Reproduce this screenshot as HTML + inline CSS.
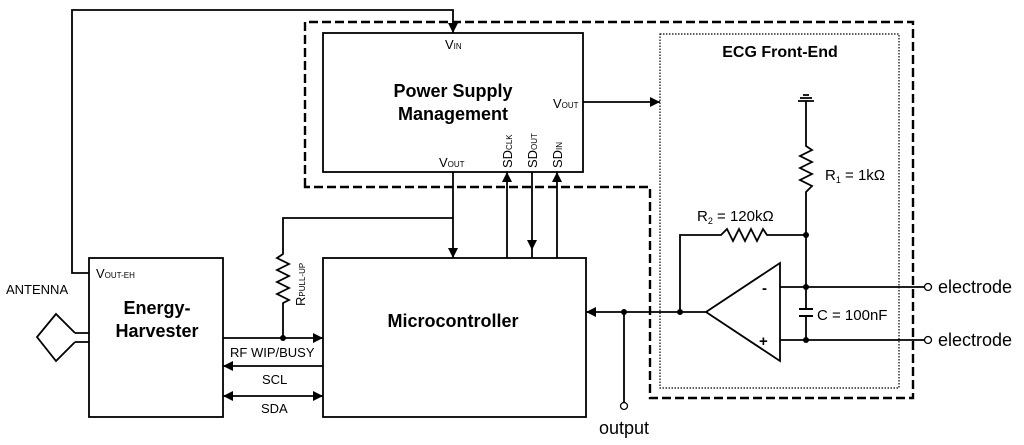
<!DOCTYPE html>
<html><head><meta charset="utf-8"><style>
html,body{margin:0;padding:0;background:#fff;}
svg{display:block;font-family:"Liberation Sans",Arial,sans-serif;}
</style></head><body>
<svg width="1024" height="445" viewBox="0 0 1024 445" xmlns="http://www.w3.org/2000/svg">
<defs>
<marker id="a" viewBox="0 0 10 10" refX="10" refY="5" markerWidth="10" markerHeight="10" markerUnits="userSpaceOnUse" orient="auto-start-reverse"><path d="M0,0 L10,5 L0,10 z" fill="#000"/></marker>
</defs>
<g fill="none" stroke="#000" stroke-width="1.8">
<path d="M305,187 V22 H913 V398 H650 V187 Z" stroke-width="2.4" stroke-dasharray="9,4"/>
<rect x="660" y="34" width="239" height="354" stroke-width="1.2" stroke-dasharray="1.5,1.5"/>
<rect x="323" y="33" width="260" height="139"/>
<rect x="89" y="258" width="134" height="159"/>
<rect x="323" y="258" width="263" height="159"/>
<path d="M89,273 H72 V10 H453 V33" marker-end="url(#a)"/>
<path d="M583,102 H660" marker-end="url(#a)"/>
<path d="M453,172 V258" marker-end="url(#a)"/>
<path d="M507,250 V172" marker-end="url(#a)"/>
<path d="M532,172 V250" marker-end="url(#a)"/>
<path d="M557,250 V172" marker-end="url(#a)"/>
<path d="M507,250 V258 M532,250 V258 M557,250 V258"/>
<path d="M453,218 H283 V254 L277,258 L289,264 L277,270 L289,276 L277,282 L289,288 L277,294 L289,300 L283,303 V338"/>
<path d="M223,338 H323" marker-end="url(#a)"/>
<path d="M323,366 H223" marker-end="url(#a)"/>
<path d="M223,396 H323" marker-start="url(#a)" marker-end="url(#a)"/>
<path d="M75,333 H89 M75,342 H89 M75,333 L56,314 L37,337 L56,361 L75,342"/>
<path d="M806,101 V146 L812,150 L800,156 L812,162 L800,168 L812,174 L800,180 L812,186 L806,192 V309 M806,316 V340"/>
<path d="M798,101 H814 M800,98 H812 M803,95 H809"/>
<path d="M799,309 H813 M799,316 H813" stroke-width="2"/>
<path d="M806,235 H767 L763,229 L757,241 L751,229 L745,241 L739,229 L733,241 L727,229 L721,235 H680 V312"/>
<path d="M706,312 L780,263 V361 Z"/>
<path d="M780,287 H925 M780,340 H925"/>
<path d="M706,312 H586" marker-end="url(#a)"/>
<path d="M624,312 V403"/>
<circle cx="928" cy="287" r="3.5" stroke-width="1.3"/>
<circle cx="928" cy="340" r="3.5" stroke-width="1.3"/>
<circle cx="624" cy="406" r="3.5" stroke-width="1.3"/>
</g>
<g fill="#000">
<circle cx="283" cy="338" r="3"/>
<circle cx="806" cy="235" r="3"/>
<circle cx="806" cy="287" r="3"/>
<circle cx="806" cy="340" r="3"/>
<circle cx="680" cy="312" r="3"/>
<circle cx="624" cy="312" r="3"/>
</g>
<g font-size="13" fill="#000">
<text x="445" y="49">V<tspan font-size="8">IN</tspan></text>
<text x="553" y="108">V<tspan font-size="8">OUT</tspan></text>
<text x="439" y="167">V<tspan font-size="8">OUT</tspan></text>
<text x="96" y="278">V<tspan font-size="8">OUT-EH</tspan></text>
<text x="6" y="294">ANTENNA</text>
<text transform="translate(512,168) rotate(-90)">SD<tspan font-size="8">CLK</tspan></text>
<text transform="translate(537,168) rotate(-90)">SD<tspan font-size="8">OUT</tspan></text>
<text transform="translate(562,168) rotate(-90)">SD<tspan font-size="8">IN</tspan></text>
<text transform="translate(305,306) rotate(-90)">R<tspan font-size="8">PULL-UP</tspan></text>
<text x="230" y="357">RF WIP/BUSY</text>
<text x="262" y="384">SCL</text>
<text x="261" y="413">SDA</text>
</g>
<g font-size="15">
<text x="825" y="180">R<tspan font-size="9" dy="3">1</tspan><tspan dy="-3"> = 1kΩ</tspan></text>
<text x="697" y="221">R<tspan font-size="9" dy="3">2</tspan><tspan dy="-3"> = 120kΩ</tspan></text>
<text x="817" y="320">C = 100nF</text>
<text x="762" y="293" font-weight="bold">-</text>
<text x="759" y="346" font-weight="bold">+</text>
</g>
<g font-size="18">
<text x="938" y="293">electrode</text>
<text x="938" y="346">electrode</text>
<text x="624" y="434" text-anchor="middle">output</text>
</g>
<g font-size="18" font-weight="bold" text-anchor="middle">
<text x="453" y="97">Power Supply</text>
<text x="453" y="120">Management</text>
<text x="157" y="314">Energy-</text>
<text x="157" y="337">Harvester</text>
<text x="453" y="327">Microcontroller</text>
<text x="780" y="57" font-size="16">ECG Front-End</text>
</g>
</svg>
</body></html>
